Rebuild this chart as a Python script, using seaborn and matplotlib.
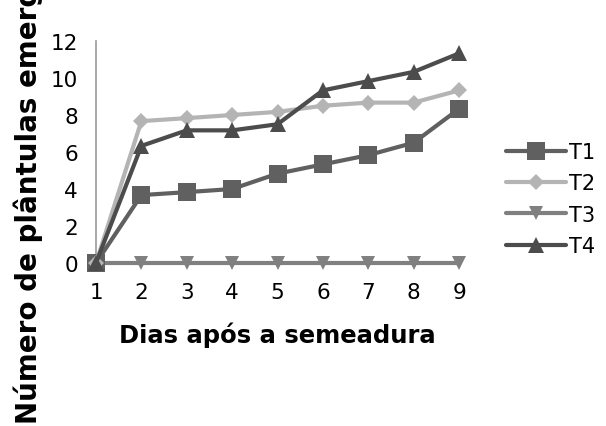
import matplotlib
matplotlib.use("Agg")
import matplotlib.pyplot as plt
import seaborn as sns
import pandas as pd

dias = [1, 2, 3, 4, 5, 6, 7, 8, 9]
t1 = [0, 3.67, 3.83, 4.0, 4.83, 5.33, 5.83, 6.5, 8.33]
t2 = [0, 7.67, 7.83, 8.0, 8.17, 8.5, 8.67, 8.67, 9.33]
t3 = [0, 0, 0, 0, 0, 0, 0, 0, 0]
t4 = [0, 6.33, 7.17, 7.17, 7.5, 9.33, 9.83, 10.33, 11.33]
tratamentos = ["T1", "T2", "T3", "T4"]
yticks = [0, 2, 4, 6, 8, 10, 12]

series = {"T1": t1, "T2": t2, "T3": t3, "T4": t4}
df = pd.DataFrame(
    [(d, v, t) for t in tratamentos for d, v in zip(dias, series[t])],
    columns=["dia", "plantulas", "tratamento"],
)

sns.set_style("white")
plt.rcParams["font.family"] = ["DejaVu Sans"]
plt.rcParams["text.color"] = "black"
plt.rcParams["xtick.labelcolor"] = "black"
plt.rcParams["ytick.labelcolor"] = "black"

cores = {"T1": "#606060", "T2": "#b4b4b4", "T3": "#808080", "T4": "#4c4c4c"}
marcadores = {"T1": "s", "T2": "D", "T3": "v", "T4": "^"}
tamanhos = {"T1": 13, "T2": 8, "T3": 10, "T4": 12}

fig = plt.figure(figsize=(6.06, 4.27), dpi=100)
ax = fig.add_axes([96 / 606, 1 - 264 / 427, (459 - 96) / 606, (264 - 42) / 427])

# draw T3 first so the other series sit above the zero line
for t in ["T3", "T1", "T2", "T4"]:
    sub = df[df["tratamento"] == t]
    sns.lineplot(
        data=sub, x="dia", y="plantulas", ax=ax, color=cores[t],
        marker=marcadores[t], markersize=tamanhos[t], markeredgewidth=0,
        linewidth=3, label=t, clip_on=False, zorder=3,
    )

ax.set_xlim(1, 9)
ax.set_ylim(0, 12)
ax.set_xticks(dias)
ax.set_yticks(yticks)
ax.tick_params(axis="both", labelsize=15.5, width=1, color="#9a9a9a",
               labelcolor="black", direction="out")
ax.tick_params(axis="y", length=8, pad=5)
ax.tick_params(axis="x", length=7, pad=7)
for s in ["top", "right", "bottom"]:
    ax.spines[s].set_visible(False)
ax.spines["left"].set_color("#9a9a9a")
ax.spines["left"].set_linewidth(1.2)

ax.set_xlabel("Dias após a semeadura", fontsize=17.5, fontweight="bold",
              labelpad=14, color="black")
ax.set_ylabel("")
fig.text(28 / 606, 3 / 427, "Número de plântulas emergidas", rotation=90,
         ha="center", va="bottom", fontsize=20, fontweight="bold", color="black")

handles, labels = ax.get_legend_handles_labels()
ordem = [labels.index(t) for t in tratamentos]
leg = ax.legend([handles[i] for i in ordem], [labels[i] for i in ordem],
                loc="center left", bbox_to_anchor=(487 / 606, 1 - 200 / 427),
                bbox_transform=fig.transFigure, frameon=False, fontsize=15,
                handlelength=2.9, labelspacing=0.55, handletextpad=0.15)
for txt in leg.get_texts():
    txt.set_color("black")

fig.savefig("out.png", dpi=100)
